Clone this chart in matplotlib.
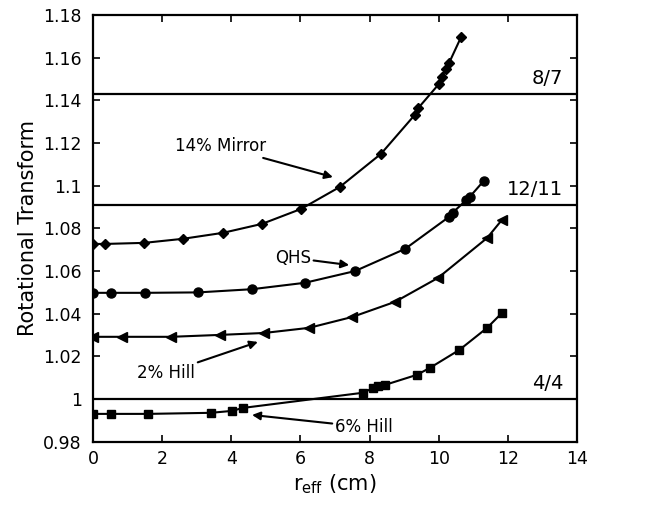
import numpy as np
import matplotlib
matplotlib.use('Agg')
import matplotlib.pyplot as plt

plt.rcParams['font.family'] = ['DejaVu Sans']
plt.rcParams['mathtext.fontset'] = 'dejavusans'

# 14% Mirror (diamonds)
mirror_r = [0.0, 0.35, 1.48, 2.6, 3.76, 4.89, 6.02, 7.14, 8.33, 9.3, 9.4,
            10.0, 10.1, 10.2, 10.3, 10.65]
mirror_iota = [1.0727, 1.0727, 1.0732, 1.0751, 1.0779, 1.0821, 1.0891, 1.0994,
               1.1149, 1.1330, 1.1362, 1.1475, 1.1510, 1.1545, 1.1575, 1.1697]

# QHS (circles)
qhs_r = [0.0, 0.52, 1.5, 3.04, 4.6, 6.13, 7.58, 9.03, 10.3, 10.4, 10.8, 10.9, 11.3]
qhs_iota = [1.0498, 1.0498, 1.0498, 1.0500, 1.0515, 1.0545, 1.0600, 1.0704,
            1.0854, 1.0873, 1.0933, 1.0948, 1.1022]

# 2% Hill (left triangles)
hill2_r = [0.0, 0.84, 2.26, 3.68, 4.95, 6.25, 7.5, 8.74, 9.98, 11.4, 11.83]
hill2_iota = [1.0292, 1.0292, 1.0292, 1.0301, 1.0310, 1.0334, 1.0385, 1.0456,
              1.0568, 1.0755, 1.0840]

# 6% Hill (squares)
hill6_r = [0.0, 0.52, 1.59, 3.41, 4.02, 4.34, 7.81, 8.1, 8.25, 8.45, 9.37,
           9.75, 10.6, 11.4, 11.83]
hill6_iota = [0.9931, 0.9931, 0.9931, 0.9936, 0.9945, 0.9959, 1.0030, 1.0052,
              1.0060, 1.0067, 1.0114, 1.0147, 1.0231, 1.0334, 1.0404]

# rational surfaces
rational_vals = [8 / 7, 12 / 11, 1.0]
rational_labels = ['8/7', '12/11', '4/4']

xticks = [0, 2, 4, 6, 8, 10, 12, 14]
yticks = [0.98, 1.0, 1.02, 1.04, 1.06, 1.08, 1.1, 1.12, 1.14, 1.16, 1.18]
ytick_labels = ['0.98', '1', '1.02', '1.04', '1.06', '1.08', '1.1', '1.12',
                '1.14', '1.16', '1.18']

fig = plt.figure(figsize=(6.69, 5.12), dpi=100)
ax = fig.add_axes([0.139, 0.137, 0.7235, 0.834])

for v, lab in zip(rational_vals, rational_labels):
    ax.axhline(v, color='black', linewidth=1.6)
    ax.text(13.6, v + 0.003, lab, ha='right', va='bottom', fontsize=14)

ax.plot(mirror_r, mirror_iota, '-D', color='black', ms=5.5, lw=1.5)
ax.plot(qhs_r, qhs_iota, '-o', color='black', ms=6.5, lw=1.5)
ax.plot(hill2_r, hill2_iota, '-<', color='black', ms=7, lw=1.5)
ax.plot(hill6_r, hill6_iota, '-s', color='black', ms=5.5, lw=1.5)

arrow = dict(arrowstyle='-|>', color='black', lw=1.5, mutation_scale=12,
             shrinkA=0, shrinkB=0)
fs = 12
ax.annotate('14% Mirror', xy=(6.94, 1.104), xytext=(5.0, 1.1185),
            ha='right', va='center', fontsize=fs, arrowprops=arrow)
ax.annotate('QHS', xy=(7.41, 1.0628), xytext=(6.3, 1.0662),
            ha='right', va='center', fontsize=fs, arrowprops=arrow)
ax.annotate('2% Hill', xy=(4.77, 1.0268), xytext=(2.95, 1.0122),
            ha='right', va='center', fontsize=fs, arrowprops=arrow)
ax.annotate('6% Hill', xy=(4.6, 0.9926), xytext=(7.0, 0.987),
            ha='left', va='center', fontsize=fs, arrowprops=arrow)

ax.set_xlim(0, 14)
ax.set_ylim(0.98, 1.18)
ax.set_xticks(xticks)
ax.set_yticks(yticks)
ax.set_yticklabels(ytick_labels)
ax.tick_params(direction='in', top=True, right=True, length=5, width=1.2,
               labelsize=12.5)
ax.tick_params(axis='y', pad=8)
ax.tick_params(axis='x', pad=6)
for s in ax.spines.values():
    s.set_linewidth(1.6)

ax.set_xlabel(r'r$_{\mathrm{eff}}$ (cm)', fontsize=15, labelpad=3)
ax.set_ylabel('Rotational Transform', fontsize=15, labelpad=4)

fig.savefig('out.png', dpi=100)
